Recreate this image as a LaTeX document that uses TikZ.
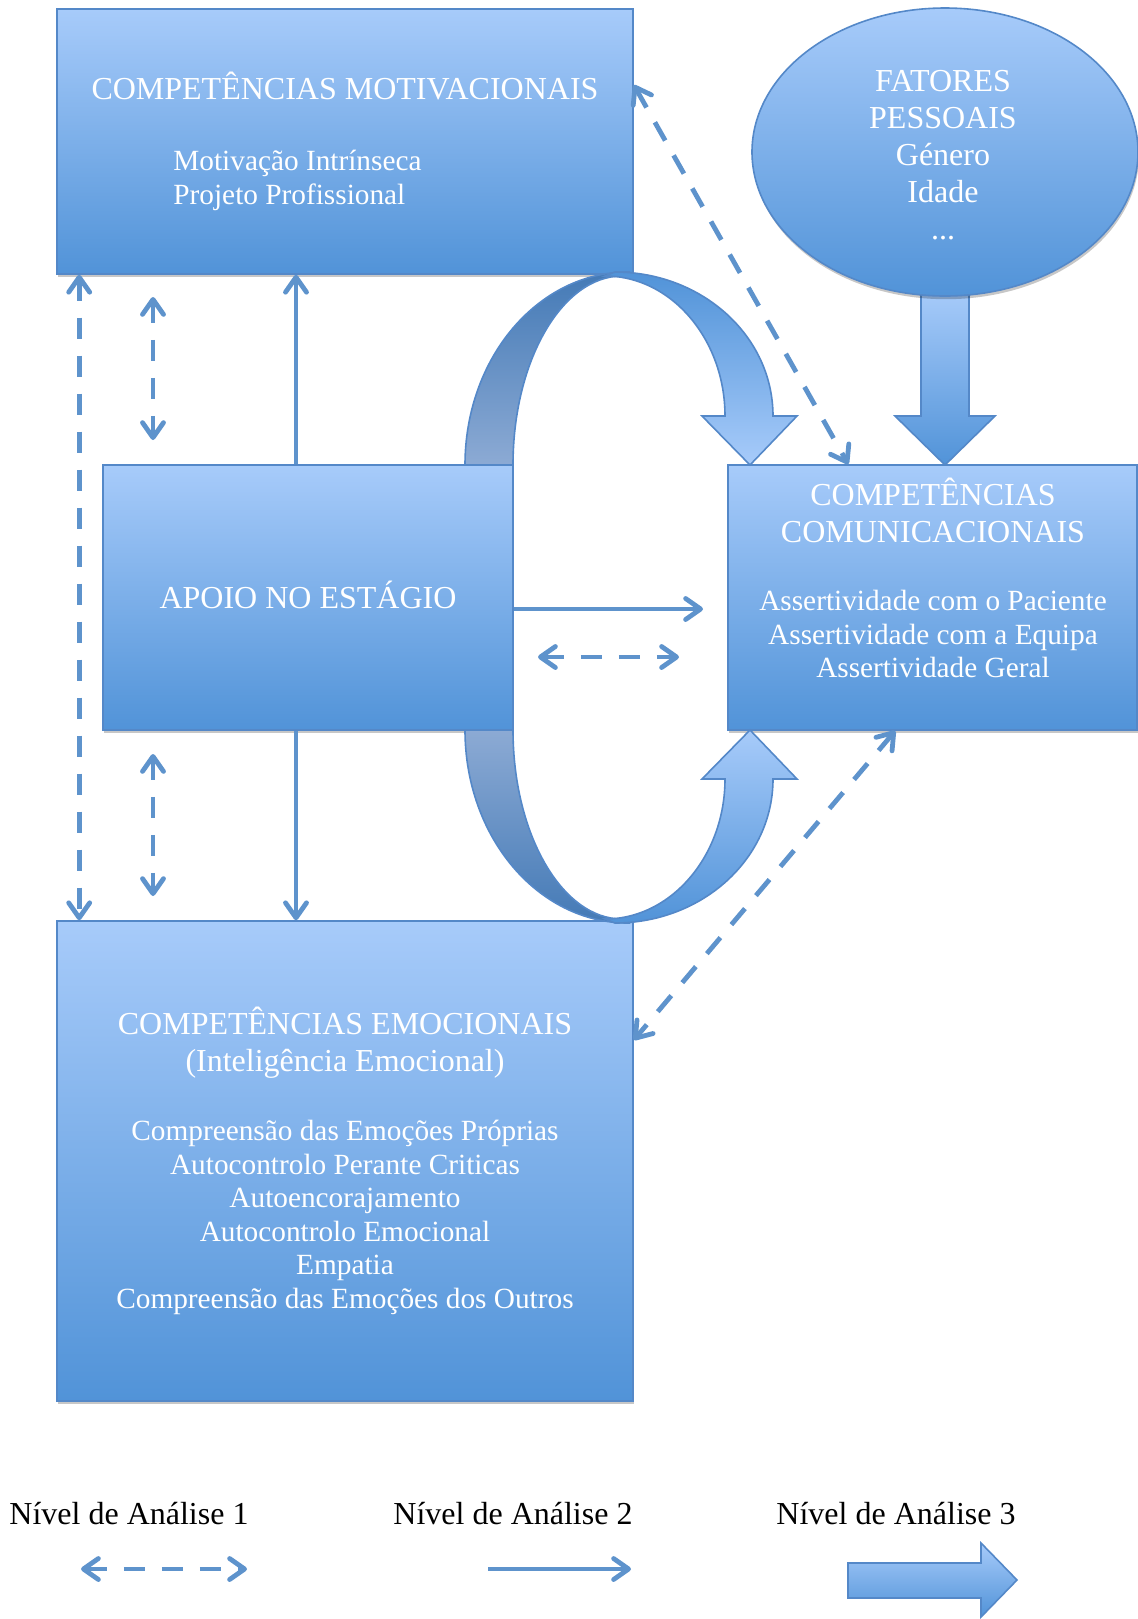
\documentclass[tikz,border=0pt]{standalone}
\usepackage{fontspec}
\setmainfont{Liberation Serif}
\usetikzlibrary{arrows.meta,shadows,shapes.geometric}

\definecolor{boxtop}{HTML}{A7CBFA}
\definecolor{boxbot}{HTML}{5193D8}
\definecolor{edgeblue}{HTML}{5488C8}
\definecolor{lineblue}{HTML}{5E93CC}
\definecolor{backdark}{HTML}{447AB6}
\definecolor{backlight}{HTML}{8CAAD4}

% invisible rule one em high, so that a node's top sits one em above its first baseline
\newcommand\tstrut{\rule{0pt}{1em}}

\begin{document}
\begin{tikzpicture}[x=0.5pt,y=-0.5pt,
  >={Straight Barb[length=7.5pt,width=10.5pt,round]},
  softshadow/.style={drop shadow={shadow xshift=0.5pt,shadow yshift=-1.6pt,opacity=0.22,fill=black}},
  panel/.style={rectangle,draw=edgeblue,line width=0.8pt,top color=boxtop,bottom color=boxbot,softshadow},
  hdr/.style={text=white,font=\fontsize{16}{18.5}\selectfont,inner sep=0pt,align=center},
  bod/.style={text=white,font=\fontsize{14.65}{16.8}\selectfont,inner sep=0pt,align=center},
  legtext/.style={text=black,font=\fontsize{16}{18.5}\selectfont,inner sep=0pt},
  conn/.style={draw=lineblue,line width=2.4pt},
  dashconn/.style={conn,dash pattern=on 10.5pt off 8.5pt},
  bandback/.style={draw=edgeblue,line width=0.8pt,top color=backdark,bottom color=backlight},
  bandbackflip/.style={draw=edgeblue,line width=0.8pt,top color=backlight,bottom color=backdark},
  bandfront/.style={draw=edgeblue,line width=0.8pt,top color=boxbot,bottom color=boxtop},
  bandfrontflip/.style={draw=edgeblue,line width=0.8pt,top color=boxtop,bottom color=boxbot},
  blockarrow/.style={draw=edgeblue,line width=0.8pt,top color=boxtop,bottom color=boxbot}
]
\useasboundingbox (0,0) rectangle (1138,1619);

% ---------- wide arrow from the personal factors down to communication ----------
\path[blockarrow] (921,290) -- (969,290) -- (969,416) -- (995,416) -- (945,465)
  -- (895,416) -- (921,416) -- cycle;

% ---------- boxes ----------
\node[panel,minimum width=288pt,minimum height=132.5pt] (mot) at (345,141.5) {};
\node[panel,ellipse,minimum width=193pt,minimum height=144pt] (fat) at (945,152) {};
\node[panel,minimum width=205pt,minimum height=132.5pt,
      text=white,font=\fontsize{16}{18.5}\selectfont,text height=10.6pt,text depth=0pt]
      (apoio) at (308,597.5) {APOIO NO ESTÁGIO};
\node[panel,minimum width=204.5pt,minimum height=132.5pt] (com) at (932.75,597.5) {};
\node[panel,minimum width=288pt,minimum height=240pt] (emo) at (345,1161) {};

% ---------- box texts ----------
\node[hdr,anchor=base] (motH) at (345,99) {COMPETÊNCIAS MOTIVACIONAIS};
\node[bod,align=left,anchor=north west] (motB) at (173,140.7)
  {\tstrut Motivação Intrínseca\\Projeto Profissional};

\node[hdr,anchor=north] (fatT) at (943,58.7)
  {\tstrut FATORES\\PESSOAIS\\Género\\Idade\\...};

\node[hdr,anchor=north] (comH) at (933,473)
  {\tstrut COMPETÊNCIAS\\COMUNICACIONAIS};
\node[bod,anchor=north] (comB) at (933,580.7)
  {\tstrut Assertividade com o Paciente\\Assertividade com a Equipa\\Assertividade Geral};

\node[hdr,anchor=north] (emoH) at (345,1002)
  {\tstrut COMPETÊNCIAS EMOCIONAIS\\(Inteligência Emocional)};
\node[bod,anchor=north] (emoB) at (345,1110.7)
  {\tstrut Compreensão das Emoções Próprias\\Autocontrolo Perante Criticas\\Autoencorajamento\\Autocontrolo Emocional\\Empatia\\Compreensão das Emoções dos Outros};

% ---------- curved wide arrows round the support box ----------
\path[bandback] (465,465) .. controls (465,358) and (538,272) .. (628,272)
  -- (622,276) .. controls (562,276) and (513,361) .. (513,465) -- cycle;
\path[bandfront] (605,276) -- (615,272) .. controls (702,272) and (773,336) .. (773,416)
  -- (797,416) -- (750,465) -- (702,416) -- (725,416)
  .. controls (725,339) and (671,276) .. (605,276) -- cycle;

\path[bandbackflip] (465,730) .. controls (465,837) and (538,923) .. (628,923)
  -- (622,919) .. controls (562,919) and (513,834) .. (513,730) -- cycle;
\path[bandfrontflip] (605,919) -- (615,923) .. controls (702,923) and (773,859) .. (773,779)
  -- (797,779) -- (750,730) -- (702,779) -- (725,779)
  .. controls (725,856) and (671,919) .. (605,919) -- cycle;

% ---------- level 2 connectors ----------
\draw[conn,->] ([xshift=-6pt]apoio.north) -- ([xshift=-24.5pt]mot.south);
\draw[conn,->] ([xshift=-6pt]apoio.south) -- ([xshift=-24.5pt]emo.north);
\coordinate (s3end) at (703,609);
\draw[conn,->] ([yshift=-5.75pt]apoio.east) -- (s3end);

% ---------- level 1 connectors ----------
\draw[dashconn,<->] ([xshift=11.5pt]mot.south west) -- ([xshift=11.5pt]emo.north west);
\coordinate (d2a) at (153,297);
\coordinate (d2b) at (153,440);
\draw[dashconn,<->] (d2a) -- (d2b);
\coordinate (d3a) at (153,754);
\coordinate (d3b) at (153,896);
\draw[dashconn,<->] (d3a) -- (d3b);
\coordinate (d4a) at (538,657);
\coordinate (d4b) at (679,657);
\draw[dashconn,<->] (d4a) -- (d4b);
\draw[dashconn,<->] ([yshift=28.25pt]mot.east) -- ([xshift=-42.25pt]com.north);
\draw[dashconn,<->] ([xshift=-18.75pt]com.south) -- ([yshift=60.5pt]emo.east);

% ---------- legend ----------
\node[legtext,anchor=base] (lg1) at (129,1524) {Nível de Análise 1};
\node[legtext,anchor=base] (lg2) at (513,1524) {Nível de Análise 2};
\node[legtext,anchor=base] (lg3) at (896,1524) {Nível de Análise 3};

\coordinate (la1) at (81,1569);
\coordinate (la2) at (247,1569);
\draw[dashconn,<->] (la1) -- (la2);
\coordinate (lb1) at (488,1569);
\coordinate (lb2) at (631,1569);
\draw[conn,->] (lb1) -- (lb2);
\path[blockarrow] (848,1563) -- (981,1563) -- (981,1543) -- (1017,1580)
  -- (981,1617) -- (981,1598) -- (848,1598) -- cycle;
\end{tikzpicture}
\end{document}
